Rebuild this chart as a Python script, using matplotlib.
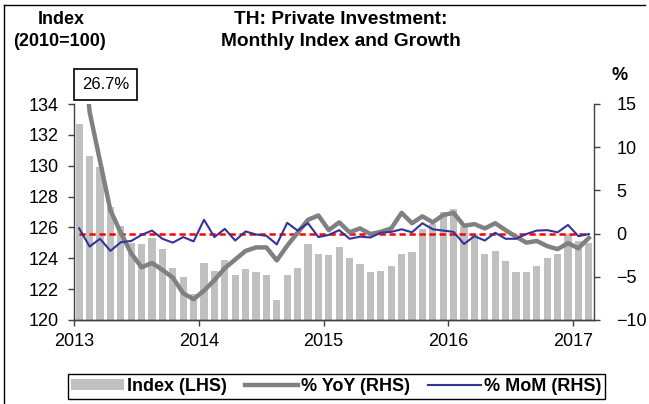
import matplotlib.pyplot as plt
import numpy as np

plt.rcParams['font.family'] = ['Liberation Sans', 'DejaVu Sans']

# monthly data, Jan 2013 - Feb 2017
years = ['2013', '2014', '2015', '2016', '2017']
index_lhs = [132.7, 130.6, 129.9, 127.3, 126.1, 125.0, 124.9, 125.3, 124.6, 123.4,
             122.8, 121.7, 123.7, 123.2, 123.9, 122.9, 123.3, 123.1, 122.9, 121.3,
             122.9, 123.4, 124.9, 124.3, 124.2, 124.7, 124.0, 123.6, 123.1, 123.2,
             123.5, 124.3, 124.4, 125.9, 126.2, 127.0, 127.2, 126.0, 125.6, 124.3,
             124.5, 123.8, 123.1, 123.1, 123.5, 124.0, 124.3, 125.6, 125.1, 125.0]
yoy = [26.7, 14.1, 8.4, 2.7, 0.1, -2.3, -3.9, -3.4, -4.2, -5.1,
       -6.9, -7.6, -6.6, -5.4, -4.0, -3.0, -2.0, -1.6, -1.6, -3.1,
       -1.4, 0.1, 1.6, 2.1, 0.4, 1.3, 0.15, 0.6, -0.05, 0.2,
       0.6, 2.4, 1.2, 2.0, 1.3, 2.15, 2.4, 0.9, 1.1, 0.6,
       1.2, 0.4, -0.35, -1.05, -0.85, -1.45, -1.8, -1.1, -1.7, -0.5]
mom = [0.6, -1.5, -0.6, -2.0, -1.0, -0.85, -0.15, 0.35, -0.6, -1.05,
       -0.4, -0.9, 1.6, -0.4, 0.55, -0.8, 0.25, -0.1, -0.25, -1.25,
       1.25, 0.35, 1.2, -0.4, -0.15, 0.4, -0.6, -0.35, -0.45, 0.1,
       0.2, 0.5, 0.15, 1.2, 0.5, 0.35, 0.2, -1.2, -0.3, -0.8,
       0.1, -0.6, -0.6, -0.05, 0.35, 0.4, 0.15, 1.0, -0.3, -0.05]

x = np.arange(len(index_lhs))
fs = 13
spc = '#404040'

fig = plt.figure(figsize=(6.49, 4.04), dpi=100)
ax = fig.add_axes([74/649, 1-320/404, 520/649, 216/404])
ax2 = ax.twinx()

bars = ax.bar(x, index_lhs, width=0.7, color='#c0c0c0', label='Index (LHS)')
ax.set_ylim(120, 134)
ax.set_yticks(np.arange(120, 135, 2))
ax.set_xlim(-0.5, len(x) - 0.5)
ax.set_xticks(np.arange(len(years)) * 12 - 0.5)
ax.set_xticklabels(years)

ax2.plot(x, np.zeros(len(x)), color='#ff0000', lw=1.8, ls=(0, (2.5, 1.5)))
l1, = ax2.plot(x, yoy, color='#808080', lw=3.2, label='% YoY (RHS)')
l2, = ax2.plot(x, mom, color='#333399', lw=1.5, label='% MoM (RHS)')
ax2.set_ylim(-10, 15)
ax2.set_yticks(np.arange(-10, 16, 5))

for a in (ax, ax2):
    a.spines['top'].set_visible(False)
    for s in ('left', 'right', 'bottom'):
        a.spines[s].set_color(spc)
        a.spines[s].set_linewidth(1.0)
    a.tick_params(labelsize=fs, colors=spc, labelcolor='black', length=4, width=1)
ax.tick_params(axis='y', pad=7)
ax.tick_params(axis='x', pad=5)
ax2.tick_params(axis='y', pad=12)
ax.spines['right'].set_visible(False)
ax2.spines['left'].set_visible(False)

fig.text(341/649, 1-20/404, 'TH: Private Investment:', ha='center', va='center',
         fontsize=13.8, fontweight='bold')
fig.text(341/649, 1-42/404, 'Monthly Index and Growth', ha='center', va='center',
         fontsize=13.8, fontweight='bold')
fig.text(61/649, 1-20/404, 'Index', ha='center', va='center', fontsize=fs, fontweight='bold')
fig.text(59/649, 1-42/404, '(2010=100)', ha='center', va='center', fontsize=fs, fontweight='bold')
fig.text(620/649, 1-76/404, '%', ha='center', va='center', fontsize=fs, fontweight='bold')

fig.text(105.5/649, 1-84.5/404, '26.7%', ha='center', va='center', fontsize=12,
         bbox=dict(boxstyle='square,pad=0.5', fc='white', ec='black', lw=1.2))

leg = fig.legend([bars, l1, l2], ['Index (LHS)', '% YoY (RHS)', '% MoM (RHS)'],
                 loc='center', bbox_to_anchor=(336.5/649, 1-386.5/404), ncol=3,
                 prop={'size': fs, 'weight': 'bold'}, fancybox=False, framealpha=1,
                 edgecolor='black', handlelength=2.9, handletextpad=0.2,
                 columnspacing=1.0, handleheight=0.5, borderpad=0.2, borderaxespad=0)
leg.get_frame().set_linewidth(1.0)

# outer frame (top and left edges)
fig.add_artist(plt.Line2D([4/649, 645/649], [1-5/404, 1-5/404], color='black', lw=1.0))
fig.add_artist(plt.Line2D([4/649, 4/649], [0, 1-5/404], color='black', lw=1.0))

fig.savefig('out.png', dpi=100)
